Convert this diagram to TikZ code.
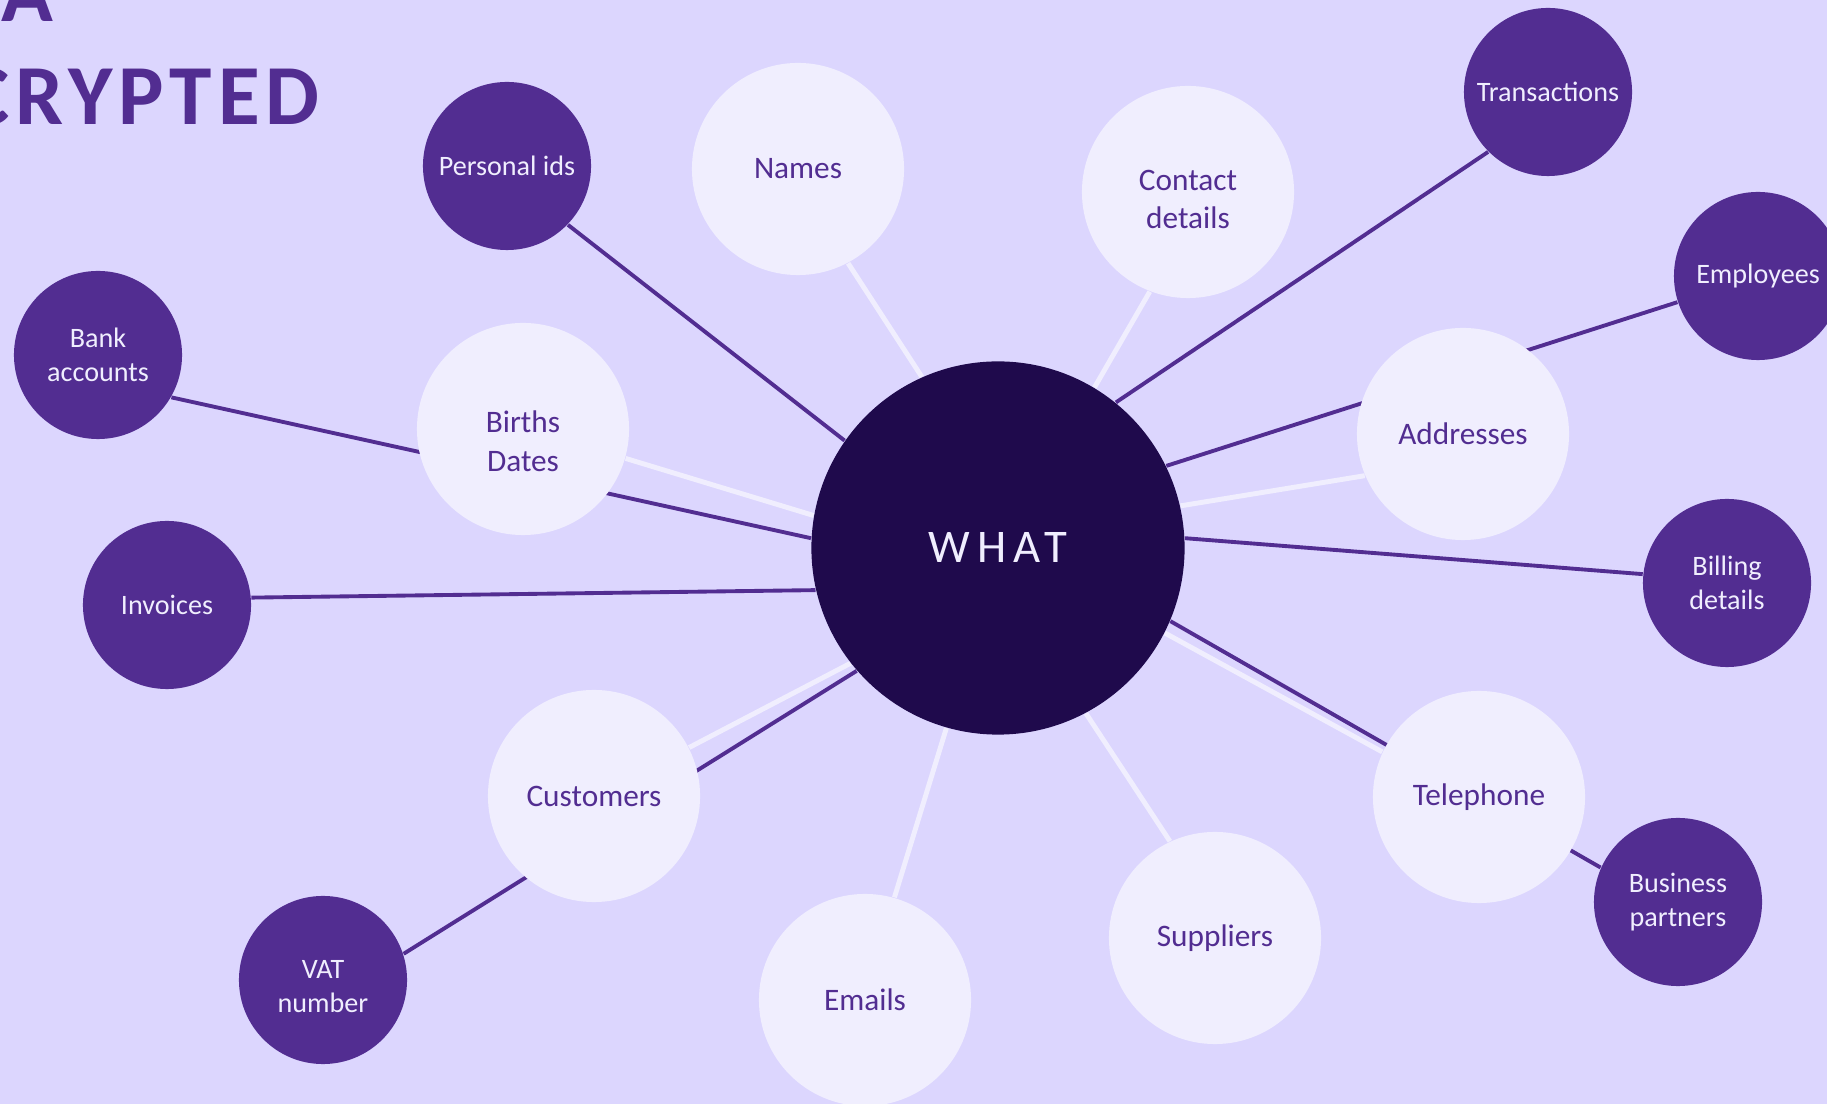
\documentclass[tikz,border=0pt]{standalone}
\usepackage{fontspec}
\setmainfont{Carlito}
\usepackage{xcolor}
\definecolor{bgc}{HTML}{DCD6FE}
\definecolor{pale}{HTML}{F0EEFE}
\definecolor{purp}{HTML}{522D91}
\definecolor{deep}{HTML}{1F0A4C}
\pgfdeclarelayer{bg}
\pgfsetlayers{bg,main}

\begin{document}
\begin{tikzpicture}[x=0.01cm,y=-0.01cm,
    outer/.style={circle,fill=purp,text=pale,minimum size=1.68cm,inner sep=0pt,align=center,font=\fontsize{8}{9.6}\selectfont},
    inner/.style={circle,fill=pale,text=purp,minimum size=2.12cm,inner sep=0pt,align=center,font=\fontsize{8.9}{11}\selectfont},
    hub/.style={circle,fill=deep,text=pale,minimum size=3.73cm,inner sep=0pt,font=\fontsize{13.3}{16}\selectfont},
    title/.style={text=purp,inner sep=0pt,anchor=base west,font=\fontsize{24.3}{29}\selectfont\bfseries\addfontfeatures{LetterSpace=7}},
    darkline/.style={draw=purp,line width=1.1pt},
    paleline/.style={draw=pale,line width=1.4pt}]
    \useasboundingbox (0,0) rectangle (1827,1104);
    \clip (0,0) rectangle (1827,1104);
    \node(tta)[title] at (1,22)    {A};
    \node(ttb)[title] at (-36,125) {CRYPTED};
    \node(what)[hub] at (998,548) {\addfontfeatures{LetterSpace=16}WHAT};
    \node(pid)[outer] at (507,166)  {Personal ids};
    \node(nam)[inner] at (798,169)  {Names};
    \node(con)[inner] at (1188,192) {\rule{0pt}{10pt}Contact\\details};
    \node(tra)[outer] at (1548,92)  {Transactions};
    \node(emp)[outer] at (1758,276) {Employees};
    \node(adr)[inner] at (1463,434) {Addresses};
    \node(bil)[outer] at (1727,583) {Billing\\details};
    \node(tel)[inner] at (1479,797) {Telephone};
    \node(bus)[outer] at (1678,902) {Business\\partners};
    \node(sup)[inner] at (1215,938) {Suppliers};
    \node(ema)[inner] at (865,1000) {Emails};
    \node(cus)[inner] at (594,796)  {Customers};
    \node(vat)[outer] at (323,980)  {\rule{0pt}{9pt}VAT\\number};
    \node(inv)[outer] at (167,605)  {Invoices};
    \node(ban)[outer] at (98,355)   {Bank\\accounts};
    \node(bir)[inner] at (523,429)  {\rule{0pt}{13pt}Births\\Dates};
    \begin{pgfonlayer}{bg}
    \fill[bgc] (0,0) rectangle (1827,1104);
    \draw[paleline] (bir.344)--(what.170);
    \draw[paleline] (nam.298)--(what.114);
    \draw[paleline] (con.249)--(what.59);
    \draw[paleline] (adr.203)--(what.13);
    \draw[paleline] (tel.155)--(what.333);
    \draw[paleline] (sup.115)--(what.298);
    \draw[paleline] (ema.74)--(what.254);
    \draw[paleline] (cus.27)--(what.218);
    \draw[darkline] (pid.316)--(what.145);
    \draw[darkline] (ban.330)--(what.177);
    \draw[darkline] (inv.5)--(what.193);
    \draw[darkline] (vat.18)--(what.221);
    \draw[darkline] (tra.225)--(what.51);
    \draw[darkline] (emp.198)--(what.26);
    \draw[darkline] (bil.174)--(what.3);
    \draw[darkline] (bus.156)--(what.337);
    \end{pgfonlayer}
\end{tikzpicture}
\end{document}
